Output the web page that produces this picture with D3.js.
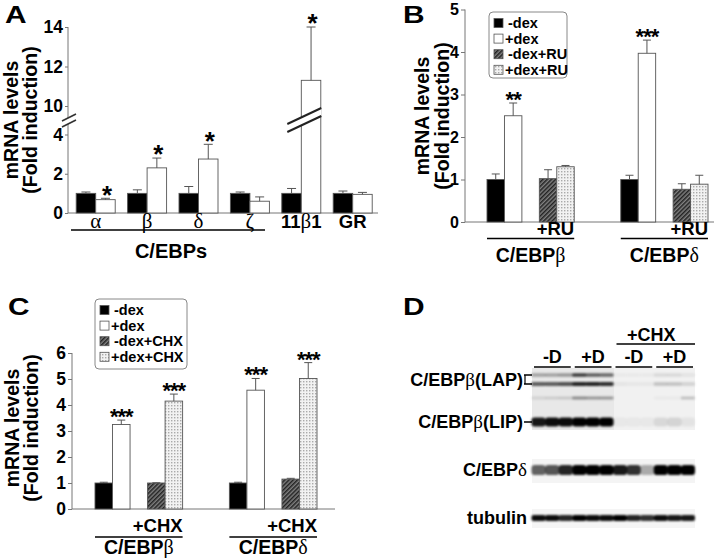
<!DOCTYPE html>
<html><head><meta charset="utf-8">
<script src="https://cdn.jsdelivr.net/npm/d3@7"></script>
<style>body{margin:0;background:#fff}svg{display:block}</style>
</head><body>
<svg id="fig" width="720" height="558"></svg>
<script>
// ---------------- DATA ----------------
// Panel A
const catsA = ["α","β","δ","ζ","11β1","GR"];
const minusDexA = [1.0, 1.0, 1.0, 1.0, 1.0, 1.0];
const minusDexErrA = [0.07, 0.18, 0.35, 0.07, 0.25, 0.12];
const plusDexA = [0.68, 2.3, 2.75, 0.6, 11.3, 0.95];
const plusDexErrA = [0.07, 0.5, 0.75, 0.22, 2.7, 0.1];
const sigA = ["*","*","*","","*",""];
const ticksALow = [0, 2, 4];
const ticksAHigh = [10, 12, 14];

// Panel B
const groupsB = ["C/EBPβ","C/EBPδ"];
const condsB = ["-dex","+dex","-dex+RU","+dex+RU"];
const valuesB = [[1.0, 2.5, 1.02, 1.3],[1.0, 3.97, 0.77, 0.89]];
const errB = [[0.13, 0.3, 0.21, 0.03],[0.1, 0.31, 0.13, 0.21]];
const sigB = [["","**","",""],["","***","",""]];
const ticksB = [0,1,2,3,4,5];

// Panel C
const groupsC = ["C/EBPβ","C/EBPδ"];
const condsC = ["-dex","+dex","-dex+CHX","+dex+CHX"];
const valuesC = [[1.0, 3.25, 1.0, 4.15],[1.0, 4.57, 1.15, 5.02]];
const errC = [[0.03, 0.17, 0.01, 0.27],[0.03, 0.45, 0.03, 0.61]];
const sigC = [["","***","","***"],["","***","","***"]];
const ticksC = [0,1,2,3,4,5,6];

// Panel D (western blot, relative band intensities for 12 lanes)
const laneGroupsD = ["-D","+D","-D","+D"];
const bandLAPupper = [0.3,0.3,0.35,0.75,0.6,0.55,0.03,0.03,0.03,0.1,0.1,0.06];
const bandLAPlower = [0.6,0.6,0.65,0.85,0.85,0.8,0.05,0.04,0.04,0.18,0.18,0.12];
const bandMid      = [0.1,0.12,0.14,0.4,0.35,0.35,0,0,0,0.03,0.03,0.2];
const bandLIP      = [0.9,0.95,0.95,1,1,1,0.04,0.04,0.04,0.1,0.12,0.06];
const bandDelta    = [0.6,0.65,0.85,1,1,1,0.9,0.8,0.3,1,1,1];
const bandTubulin  = [0.95,0.95,0.85,1,0.95,0.95,1,0.85,0.8,0.95,0.9,0.9];

// ---------------- STYLE ----------------
const SANS = "'Liberation Sans', Arial, Helvetica, sans-serif";
const SERIF = "'Liberation Serif', 'Times New Roman', serif";
const AXC = "#777";
const OUT = "#555";
const fillsPanel = ["#000", "#fff", "url(#hatch)", "url(#dots)"];

const svg = d3.select("#fig");
const defs = svg.append("defs");
const hatch = defs.append("pattern").attr("id","hatch").attr("patternUnits","userSpaceOnUse")
  .attr("width",3).attr("height",3).attr("patternTransform","rotate(45)");
hatch.append("rect").attr("width",3).attr("height",3).attr("fill","#808080");
hatch.append("rect").attr("width",1.5).attr("height",3).attr("fill","#222");
const dots = defs.append("pattern").attr("id","dots").attr("patternUnits","userSpaceOnUse")
  .attr("width",3).attr("height",3);
dots.append("rect").attr("width",3).attr("height",3).attr("fill","#f2f2f2");
dots.append("rect").attr("width",1.4).attr("height",1.4).attr("fill","#aaa");
defs.append("filter").attr("id","blur").attr("x","-50%").attr("y","-100%").attr("width","200%").attr("height","300%")
  .append("feGaussianBlur").attr("stdDeviation",1.3);

function panelLetter(t, x, y) {
  svg.append("text").attr("x",x).attr("y",y).attr("font-family",SANS).attr("font-weight","bold")
    .attr("font-size",23).attr("transform",`translate(${x},${y}) scale(1.3,1) translate(${-x},${-y})`).text(t);
}
function yTitle(cy, x1, x2) {
  const g = svg.append("g").attr("font-family",SANS).attr("font-weight","bold").attr("font-size",19.5)
    .attr("text-anchor","middle");
  g.append("text").attr("transform",`translate(${x1},${cy}) rotate(-90)`).text("mRNA levels");
  g.append("text").attr("transform",`translate(${x2},${cy}) rotate(-90)`).text("(Fold induction)");
}
function splitGreek(s) {
  const out = []; let cur = ""; let curG = null;
  for (const ch of s) {
    const g = /[α-ω]/.test(ch);
    if (curG === null || g === curG) { cur += ch; curG = g; }
    else { out.push([cur, curG]); cur = ch; curG = g; }
  }
  out.push([cur, curG]);
  return out;
}
function bar(g, x, w, y0, yTop, fill) {
  g.append("rect").attr("x",x).attr("y",yTop).attr("width",w).attr("height",y0 - yTop)
    .attr("fill",fill).attr("stroke",OUT).attr("stroke-width",0.9);
}
function errBar(g, cx, yTop, yErr, cap) {
  g.append("line").attr("x1",cx).attr("x2",cx).attr("y1",yTop).attr("y2",yErr).attr("stroke",OUT).attr("stroke-width",1);
  g.append("line").attr("x1",cx-cap/2).attr("x2",cx+cap/2).attr("y1",yErr).attr("y2",yErr).attr("stroke",OUT).attr("stroke-width",1);
}
function stars(g, cx, yErr, s, size) {
  if (!s) return;
  g.append("text").attr("x",cx).attr("y",yErr + size*0.36).attr("text-anchor","middle")
    .attr("font-family",SANS).attr("font-weight","bold").attr("font-size",size).attr("letter-spacing",-1).text(s);
}
function styleTicks(a, fs) {
  a.selectAll("line").attr("stroke",AXC);
  a.selectAll("text").attr("font-family",SANS).attr("font-weight","bold").attr("font-size",fs || 17.5).attr("fill","#000");
}

// ---------------- PANEL A ----------------
(function(){
  const g = svg.append("g");
  const yLow = d3.scaleLinear().domain([0,4]).range([213,134.5]);
  const yHigh = d3.scaleLinear().domain([10,14]).range([106,27]);
  const yA = v => v <= 5 ? yLow(v) : yHigh(v);
  const x0 = d3.scaleBand().domain(catsA).range([70,378.4]);
  const x1 = d3.scaleBand().domain(["-dex","+dex"]).range([0,39]);
  const axX = 68;

  g.append("line").attr("x1",axX).attr("x2",axX).attr("y1",yLow(0)).attr("y2",124).attr("stroke",AXC);
  g.append("line").attr("x1",axX).attr("x2",axX).attr("y1",118).attr("y2",yHigh(14)).attr("stroke",AXC);
  g.append("line").attr("x1",axX).attr("x2",378).attr("y1",yLow(0)).attr("y2",yLow(0)).attr("stroke",AXC);
  const axL = d3.axisLeft(yLow).tickValues(ticksALow).tickSize(3).tickPadding(2).tickFormat(d3.format("d"));
  const axH = d3.axisLeft(yHigh).tickValues(ticksAHigh).tickSize(3).tickPadding(2).tickFormat(d3.format("d"));
  [axL, axH].forEach(ax => {
    const a = g.append("g").attr("transform",`translate(${axX},0)`).call(ax);
    a.select(".domain").remove();
    styleTicks(a);
  });
  g.append("polygon").attr("points","62,121 76,114 76,120 62,127").attr("fill","#fff");
  g.append("line").attr("x1",62).attr("y1",121).attr("x2",76).attr("y2",114).attr("stroke","#333").attr("stroke-width",1.6);
  g.append("line").attr("x1",62).attr("y1",127).attr("x2",76).attr("y2",120).attr("stroke","#333").attr("stroke-width",1.6);

  catsA.forEach((c,i) => {
    const gx = x0(c) + x0.bandwidth()/2 - 19.5;
    const w = x1.bandwidth();
    const vals = [minusDexA[i], plusDexA[i]];
    const errs = [minusDexErrA[i], plusDexErrA[i]];
    ["-dex","+dex"].forEach((k,j) => {
      const x = gx + x1(k);
      bar(g, x, w, yLow(0), yA(vals[j]), j === 0 ? "#000" : "#fff");
      errBar(g, x + w/2, yA(vals[j]), yA(vals[j]+errs[j]), 9);
      if (j === 1) stars(g, x + w/2 + 1, yA(vals[j]+errs[j]) - 4, sigA[i], 26);
    });
    const t = g.append("text").attr("x", x0(c) + x0.bandwidth()/2).attr("y",228).attr("text-anchor","middle")
      .attr("font-family",SANS).attr("font-weight","bold").attr("font-size",18.5);
    splitGreek(c).forEach(p => {
      const ts = t.append("tspan").text(p[0]);
      if (p[1]) ts.attr("font-family",SERIF).attr("font-weight","normal").attr("font-size",21);
    });
  });
  const bi = catsA.indexOf("11β1");
  const bx = x0(catsA[bi]) + x0.bandwidth()/2 - 6;
  g.append("polygon").attr("points",`${bx-8},124 ${bx+26},108 ${bx+26},116 ${bx-8},132`).attr("fill","#fff");
  g.append("line").attr("x1",bx-8).attr("y1",124).attr("x2",bx+26).attr("y2",108).attr("stroke","#222").attr("stroke-width",2);
  g.append("line").attr("x1",bx-8).attr("y1",132).attr("x2",bx+26).attr("y2",116).attr("stroke","#222").attr("stroke-width",2);

  g.append("line").attr("x1",71).attr("x2",265).attr("y1",230).attr("y2",230).attr("stroke","#000").attr("stroke-width",1.5);
  g.append("text").attr("x",171).attr("y",258).attr("text-anchor","middle").attr("font-family",SANS)
    .attr("font-weight","bold").attr("font-size",20).text("C/EBPs");
  yTitle(120, 18, 37);
  panelLetter("A", 5, 23);
})();

// ---------------- PANELS B & C ----------------
function groupedPanel(o) {
  const g = svg.append("g");
  const y = d3.scaleLinear().domain([0, o.ymax]).range(o.yRange);
  const x0 = d3.scaleBand().domain(o.groups).range(o.xRange).paddingInner(0.348);
  const slots = [o.conds[0], o.conds[1], "gap", o.conds[2], o.conds[3]];
  const x1 = d3.scaleBand().domain(slots).range([0, x0.bandwidth()]);
  const w = x1.bandwidth();
  g.append("line").attr("x1",o.axX).attr("x2",o.axEnd).attr("y1",y(0)).attr("y2",y(0)).attr("stroke",AXC);
  const a = g.append("g").attr("transform",`translate(${o.axX},0)`)
    .call(d3.axisLeft(y).tickValues(o.ticks).tickSize(4).tickPadding(2).tickFormat(d3.format("d")));
  a.select(".domain").attr("stroke",AXC).attr("d",`M0,${y(0)}V${y(o.ymax)}`);
  styleTicks(a, o.tickFont);

  o.groups.forEach((gr, gi) => {
    o.conds.forEach((c, ci) => {
      const x = x0(gr) + x1(c);
      const v = o.values[gi][ci], e = o.errs[gi][ci];
      bar(g, x, w, y(0), y(v), fillsPanel[ci]);
      errBar(g, x + w/2, y(v), y(v+e), 8);
      stars(g, x + w/2, y(v+e) - 4, o.sig[gi][ci], 22);
    });
    const gEnd = x0(gr) + x0.bandwidth();
    g.append("text").attr("x", gEnd).attr("y", o.subY).attr("text-anchor","end").attr("font-family",SANS)
      .attr("font-weight","bold").attr("font-size",18.5).text(o.sub);
    g.append("line").attr("x1",x0(gr)).attr("x2",gEnd).attr("y1",o.lineY).attr("y2",o.lineY)
      .attr("stroke","#000").attr("stroke-width",1.5);
    const t = g.append("text").attr("x", x0(gr) + x0.bandwidth()/2).attr("y", o.nameY).attr("text-anchor","middle")
      .attr("font-family",SANS).attr("font-weight","bold").attr("font-size",19.5);
    splitGreek(gr).forEach(p => {
      const ts = t.append("tspan").text(p[0]);
      if (p[1]) ts.attr("font-family",SERIF).attr("font-weight","normal").attr("font-size",20);
    });
  });
  const L = o.legend;
  g.append("rect").attr("x",L.x).attr("y",L.y).attr("width",L.w).attr("height",L.h).attr("rx",4)
    .attr("fill","#fff").attr("stroke","#888").attr("stroke-width",1);
  o.conds.forEach((c, ci) => {
    const cy = L.y + 11 + ci * 15.6;
    g.append("rect").attr("x",L.x+5).attr("y",cy-4.5).attr("width",9).attr("height",9)
      .attr("fill",fillsPanel[ci]).attr("stroke",OUT).attr("stroke-width",0.8);
    g.append("text").attr("x",L.x + 16 + (c[0] === "-" ? 3 : 0)).attr("y",cy+5).attr("font-family",SANS)
      .attr("font-weight","bold").attr("font-size",14.5).text(c);
  });
}

groupedPanel({
  groups: groupsB, conds: condsB, values: valuesB, errs: errB, sig: sigB, ticks: ticksB,
  ymax: 5, yRange: [222, 9.5], xRange: [487, 708], axX: 465, axEnd: 714, tickFont: 16,
  sub: "+RU", subY: 235, lineY: 238.5, nameY: 262,
  legend: {x: 489, y: 12, w: 78, h: 66}
});
yTitle(116, 429, 449);
panelLetter("B", 403, 23);

groupedPanel({
  groups: groupsC, conds: condsC, values: valuesC, errs: errC, sig: sigC, ticks: ticksC,
  ymax: 6, yRange: [509, 353], xRange: [95, 317], axX: 72, axEnd: 335,
  sub: "+CHX", subY: 532, lineY: 537, nameY: 553.5,
  legend: {x: 95, y: 299, w: 92, h: 70}
});
yTitle(428, 19, 38);
panelLetter("C", 8, 315);

// ---------------- PANEL D ----------------
(function(){
  const g = svg.append("g");
  const lanes = d3.scaleBand().domain(d3.range(12)).range([532, 695]);
  const lw = lanes.bandwidth();
  g.append("rect").attr("x",532).attr("y",368).attr("width",82).attr("height",62).attr("fill","#e8e8e8");
  g.append("rect").attr("x",614).attr("y",368).attr("width",81).attr("height",62).attr("fill","#f1f1f1");
  g.append("rect").attr("x",532).attr("y",459).attr("width",163).attr("height",24).attr("fill","#f4f4f4");
  g.append("rect").attr("x",532).attr("y",509).attr("width",163).attr("height",19).attr("fill","#f5f5f5");

  const rows = [
    {d: bandLAPupper, y: 375, h: 3.5},
    {d: bandLAPlower, y: 384, h: 4},
    {d: bandMid, y: 398, h: 3},
    {d: bandLIP, y: 422, h: 9},
    {d: bandDelta, y: 470, h: 10},
    {d: bandTubulin, y: 518, h: 6}
  ];
  const bands = g.append("g").attr("filter","url(#blur)");
  rows.forEach(r => {
    r.d.forEach((v, i) => {
      bands.append("rect").attr("x", lanes(i) - 0.5).attr("y", r.y - r.h/2).attr("width", lw + 0.5)
        .attr("height", r.h).attr("rx", r.h/3).attr("fill", "#000").attr("opacity", v);
    });
  });

  const T = (x, y, anchor) => g.append("text").attr("x",x).attr("y",y).attr("text-anchor",anchor||"middle")
    .attr("font-family",SANS).attr("font-weight","bold").attr("font-size",18);
  laneGroupsD.forEach((lab, k) => {
    const x0 = lanes(k*3), x1 = lanes(k*3+2) + lw;
    T((x0+x1)/2, 363).text(lab);
    g.append("line").attr("x1",x0+2).attr("x2",x1-2).attr("y1",367).attr("y2",367).attr("stroke","#000").attr("stroke-width",1.5);
  });
  T((lanes(6)+lanes(11)+lw)/2 - 3, 341).text("+CHX");
  g.append("line").attr("x1",lanes(6)+3).attr("x2",lanes(11)+lw).attr("y1",344).attr("y2",344).attr("stroke","#000").attr("stroke-width",1.5);

  const lab = (x, y, s) => {
    const t = T(x, y, "end");
    splitGreek(s).forEach(p => {
      const ts = t.append("tspan").text(p[0]);
      if (p[1]) ts.attr("font-family",SERIF).attr("font-weight","normal").attr("font-size",19);
    });
  };
  lab(523, 386, "C/EBPβ(LAP)");
  lab(523, 428, "C/EBPβ(LIP)");
  lab(527, 476, "C/EBPδ");
  lab(527, 524, "tubulin");
  [375, 384].forEach(yy => g.append("line").attr("x1",524).attr("x2",532).attr("y1",yy).attr("y2",yy).attr("stroke","#000").attr("stroke-width",1.5));
  g.append("line").attr("x1",525).attr("x2",525).attr("y1",375).attr("y2",384).attr("stroke","#000").attr("stroke-width",1.2);
  g.append("line").attr("x1",524).attr("x2",532).attr("y1",422).attr("y2",422).attr("stroke","#000").attr("stroke-width",1.5);
  panelLetter("D", 403, 315);
})();
</script>
</body></html>
